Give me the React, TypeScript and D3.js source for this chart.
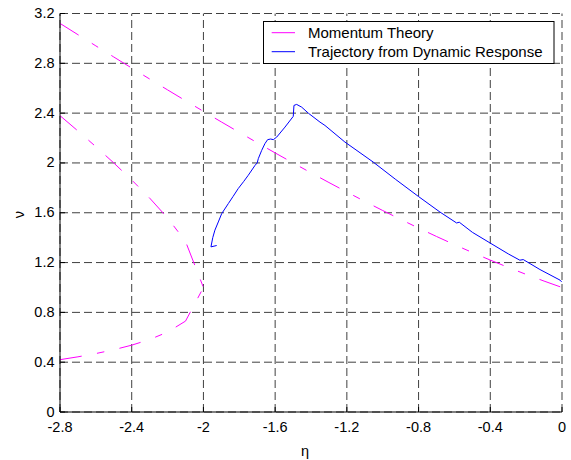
import React from 'react';
import * as d3 from 'd3';

const xTicks = [-2.8, -2.4, -2, -1.6, -1.2, -0.8, -0.4, 0];
const yTicks = [0, 0.4, 0.8, 1.2, 1.6, 2, 2.4, 2.8, 3.2];

// Momentum theory, normal working state
const etaNormal = [-2.8, -2.7, -2.6, -2.5, -2.4, -2.3, -2.2, -2.1, -2.0, -1.9, -1.8, -1.7, -1.6, -1.5, -1.4, -1.3, -1.2, -1.1, -1.0, -0.9, -0.8, -0.7, -0.6, -0.5, -0.4, -0.3, -0.2, -0.1, 0];
const nuNormal = [3.1205, 3.03, 2.9401, 2.8508, 2.762, 2.674, 2.5866, 2.5, 2.4142, 2.3293, 2.2454, 2.1624, 2.0806, 2.0, 1.9207, 1.8427, 1.7662, 1.6913, 1.618, 1.5466, 1.477, 1.4095, 1.344, 1.2808, 1.2198, 1.1612, 1.105, 1.0512, 1.0];

// Momentum theory, windmill brake state
const etaWindmill = [-2.8, -2.7, -2.6, -2.5, -2.4, -2.3, -2.2, -2.1, -2.0];
const nuWindmillUpper = [2.3798, 2.2569, 2.1307, 2.0, 1.8633, 1.7179, 1.5583, 1.3702, 1.0];
const nuWindmillLower = [0.4202, 0.4431, 0.4693, 0.5, 0.5367, 0.5821, 0.6417, 0.7298, 1.0];

// Trajectory from dynamic response
const etaTrajectory = [-1.926, -1.958, -1.948, -1.936, -1.917, -1.898, -1.861, -1.835, -1.806, -1.775, -1.750, -1.712, -1.700, -1.694, -1.675, -1.657, -1.642, -1.625, -1.610, -1.591, -1.545, -1.499, -1.495, -1.480, -1.452, -1.415, -1.350, -1.322, -1.211, -1.053, -0.930, -0.802, -0.681, -0.588, -0.573, -0.500, -0.402, -0.300, -0.235, -0.216, -0.123, -0.011, -0.002];
const nuTrajectory = [1.337, 1.326, 1.400, 1.460, 1.526, 1.593, 1.674, 1.730, 1.794, 1.852, 1.901, 1.981, 2.000, 2.034, 2.101, 2.155, 2.187, 2.192, 2.187, 2.208, 2.288, 2.374, 2.462, 2.470, 2.448, 2.400, 2.328, 2.301, 2.168, 2.007, 1.870, 1.732, 1.606, 1.518, 1.524, 1.443, 1.358, 1.270, 1.219, 1.224, 1.144, 1.059, 1.045];

const legendLabels = ['Momentum Theory', 'Trajectory from Dynamic Response'];
const MAGENTA = '#ff00ff';
const BLUE = '#0000ff';

export default function App() {
  const W = 571, H = 460;
  const left = 60, right = 562, top = 13.5, bottom = 412;
  const x = d3.scaleLinear().domain([-2.8, 0]).range([left, right]);
  const y = d3.scaleLinear().domain([0, 3.2]).range([bottom, top]);
  const line = d3.line<[number, number]>().x(d => x(d[0])).y(d => y(d[1]));

  const normal = line(etaNormal.map((e, i) => [e, nuNormal[i]] as [number, number])) || '';
  const wUpper = line(etaWindmill.map((e, i) => [e, nuWindmillUpper[i]] as [number, number])) || '';
  const wLower = line(etaWindmill.map((e, i) => [e, nuWindmillLower[i]] as [number, number])) || '';
  const traj = line(etaTrajectory.map((e, i) => [e, nuTrajectory[i]] as [number, number])) || '';

  const font = "'Liberation Sans', Arial, Helvetica, sans-serif";
  const dashDot = '22,15.5,7.5,15.5';
  const gridDash = '8,4';

  return (
    <svg width={W} height={H} style={{ position: 'absolute', left: 0, top: 0, background: '#fff' }} fontFamily={font}>
      <rect x={0} y={0} width={W} height={H} fill="#fff" />
      {/* grid */}
      <g stroke="#000" strokeWidth={1} strokeDasharray={gridDash} fill="none" opacity={0.75}>
        {xTicks.map(t => (
          <line key={'gx' + t} x1={x(t)} x2={x(t)} y1={bottom} y2={top} />
        ))}
        {yTicks.map(t => (
          <line key={'gy' + t} x1={left} x2={right} y1={y(t)} y2={y(t)} />
        ))}
      </g>
      {/* data */}
      <g fill="none" strokeWidth={1}>
        <path d={normal} stroke={MAGENTA} strokeDasharray={dashDot} />
        <path d={wUpper} stroke={MAGENTA} strokeDasharray={dashDot} />
        <path d={wLower} stroke={MAGENTA} strokeDasharray={dashDot} />
        <path d={traj} stroke={BLUE} />
      </g>
      {/* axes */}
      <g stroke="#000" strokeWidth={1}>
        <line x1={left} x2={left} y1={bottom} y2={top} />
        <line x1={left} x2={right} y1={bottom} y2={bottom} />
        {xTicks.map(t => (
          <line key={'tx' + t} x1={x(t)} x2={x(t)} y1={bottom} y2={bottom - 5} />
        ))}
        {yTicks.map(t => (
          <line key={'ty' + t} x1={left} x2={left + 5} y1={y(t)} y2={y(t)} />
        ))}
      </g>
      <g fontSize={14.5} fill="#000">
        {xTicks.map(t => (
          <text key={'lx' + t} x={x(t)} y={432} textAnchor="middle">{String(t)}</text>
        ))}
        {yTicks.map(t => (
          <text key={'ly' + t} x={54.5} y={y(t) + 4.5} textAnchor="end">{String(t)}</text>
        ))}
        <text x={305} y={456} textAnchor="middle">η</text>
        <text transform="translate(23.5,214.5) rotate(-90)" textAnchor="middle">ν</text>
      </g>
      {/* legend */}
      <g>
        <rect x={263.5} y={21.5} width={290.5} height={42} fill="#fff" stroke="#000" strokeWidth={1} />
        {legendLabels.map((lab, i) => {
          const ly = 32.7 + i * 19;
          return (
            <g key={lab}>
              <line x1={271.7} x2={295} y1={ly} y2={ly} stroke={i === 0 ? MAGENTA : BLUE} strokeWidth={1} />
              <text x={308} y={ly + 5} fontSize={15} fill="#000">{lab}</text>
            </g>
          );
        })}
      </g>
    </svg>
  );
}
